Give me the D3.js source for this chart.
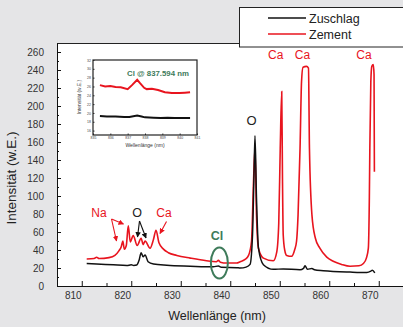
<!DOCTYPE html>
<html><head><meta charset="utf-8">
<script src="https://cdn.jsdelivr.net/npm/d3@7"></script>
<style>
html,body{margin:0;padding:0;background:#e5e5e7;}
svg{display:block;font-family:"Liberation Sans",Arial,sans-serif;}
</style></head>
<body><svg id="c" width="403" height="327"></svg>
<script>
// ---- data ----
const seriesNames = ["Zuschlag", "Zement"];
const xTickLabels = [810, 820, 830, 840, 850, 860, 870];
const yTickLabels = [0,20,40,60,80,100,120,140,160,180,200,220,240,260];

const zuschlagWl = [811.0,813.0,816.4,819.1,820.0,820.5,821.1,821.6,822.0,822.4,822.8,823.4,824.5,827.2,831.9,836.6,837.6,838.2,841.3,842.0,843.2,844.0,844.5,844.8,845.0,845.3,845.7,846.7,848.7,850.7,854.1,854.8,855.1,855.6,856.5,857.0,858.8,864.2,867.6,868.4,868.7,869.2];
const zuschlagVal = [25,24.5,23.5,22.8,23.5,22.8,23.3,29,37,32.5,34.5,27,24.4,23,22,21.3,22.3,20.8,20.4,20,21,24,57,124,167,98,42,23.7,18.5,19,18,19.5,22.5,18.5,19.5,18,17,15.5,15,16.5,17.5,14.5];

const zementWl = [811.0,812.5,813.0,813.5,815.5,816.7,817.5,818.0,818.3,818.6,819.0,819.4,819.8,820.4,821.2,822.0,822.4,822.8,823.8,824.5,825.0,825.6,826.5,827.5,829.2,831.9,835.2,837.2,837.6,838.0,839.3,841.3,842.0,843.0,843.7,844.3,844.7,845.0,845.3,845.7,846.7,848.7,849.4,849.8,850.1,850.4,850.55,850.7,851.0,851.4,852.4,853.0,853.4,853.7,854.1,854.4,854.7,855.4,855.8,856.0,856.5,857.2,858.1,859.5,860.8,862.5,864.2,866.0,866.9,867.5,867.9,868.1,868.2,868.4,868.6,868.9,869.05,869.12];
const zementVal = [30,30.5,32,30.5,31.5,34,39,44,50,41,45,67,49,56,45,53,46,50,42,52,62,48,41,37,34,31,28,27,28.5,26.5,25.5,25.5,27,29.5,34,50,116,153,79,42,31,28,38,70,153,216,120,57,40,34,33,40,50,79,153,227,243,244,242,153,79,53,42,32,27.5,24,22,22.5,25,31,42,98,153,227,244,246,235,127];

// inset (Cl region)
const insetXTicks = [835,836,837,838,839,840,841];
const insetYTicks = [16,18,20,22,24,26,28,30,32];
const insetZementWl = [835.4,835.7,836.0,836.3,836.6,837.0,837.25,837.55,837.7,837.95,838.1,838.4,838.75,839.15,839.55,840.0,840.3,840.6];
const insetZementVal = [26.3,26.0,26.1,25.9,25.8,25.4,26.3,27.5,26.8,25.7,25.4,25.5,25.2,24.7,24.5,24.5,24.6,24.7];
const insetZuschlagWl = [835.4,835.8,836.3,836.8,837.1,837.55,837.8,838.0,838.5,838.9,839.3,839.7,840.2,840.6];
const insetZuschlagVal = [19.3,19.2,19.2,19.1,19.1,19.4,19.2,19.0,18.9,18.85,18.9,18.85,18.85,18.85];

// annotations
const caLabels = [{t:"Ca", wl:849.2, v:252},{t:"Ca", wl:854.6, v:252},{t:"Ca", wl:867.0, v:252}];

const RED = "#e8141e", BLACK = "#111111", GREEN = "#3e7b5a";

const svg = d3.select("#c");
const L = 57, R = 403.5, T = 43, B = 286;
const x = d3.scaleLinear().domain([805, 875]).range([L, R]);
const y = d3.scaleLinear().domain([0, 270]).range([B, T]);

// plot background
svg.append("rect").attr("x", L).attr("y", T).attr("width", 403 - L).attr("height", B - T).attr("fill", "#fff");
svg.append("line").attr("x1", L).attr("x2", 240).attr("y1", T + 0.5).attr("y2", T + 0.5).attr("stroke", "#222");

// y axis
const yAxis = d3.axisLeft(y).tickValues(yTickLabels).tickSizeInner(-4).tickSizeOuter(0).tickPadding(13);
const gy = svg.append("g").attr("transform", `translate(${L},0)`).call(yAxis);
gy.selectAll("text").attr("font-size", 10).attr("fill", "#333").attr("font-family", "Liberation Sans, Arial");
gy.select(".domain").attr("stroke", "#111");
const yMinor = d3.axisLeft(y).tickValues(d3.range(10, 270, 20)).tickSize(-2).tickFormat("");
svg.append("g").attr("transform", `translate(${L},0)`).call(yMinor).select(".domain").remove();

// x axis
const xAxis = d3.axisBottom(x).tickValues(xTickLabels).tickSizeInner(-5).tickSizeOuter(0).tickPadding(6).tickFormat(d3.format("d"));
const gx = svg.append("g").attr("transform", `translate(0,${B})`).call(xAxis);
gx.selectAll("text").attr("font-size", 10).attr("fill", "#333").attr("dx", -9).attr("font-family", "Liberation Sans, Arial");
gx.select(".domain").attr("stroke", "#111");
const xMinor = d3.axisBottom(x).tickValues(d3.range(815, 875, 10)).tickSize(-3).tickFormat("");
svg.append("g").attr("transform", `translate(0,${B})`).call(xMinor).select(".domain").remove();
svg.selectAll(".tick line").attr("stroke", "#111");

// titles
svg.append("text").attr("x", 217).attr("y", 320).attr("text-anchor", "middle").attr("font-size", 12.5).attr("fill", "#222").text("Wellenlänge (nm)");
svg.append("text").attr("transform", "translate(16,178) rotate(-90)").attr("text-anchor", "middle").attr("font-size", 13.5).attr("fill", "#222").text("Intensität (w.E.)");

// series
const line = d3.line().x(d => x(d[0])).y(d => y(d[1])).curve(d3.curveMonotoneX);
const zusData = zuschlagWl.map((w, i) => [w, zuschlagVal[i]]);
const zemData = zementWl.map((w, i) => [w, zementVal[i]]);
svg.append("path").datum(zemData).attr("d", line).attr("fill", "none").attr("stroke", RED).attr("stroke-width", 1.6);
svg.append("path").datum(zusData).attr("d", line).attr("fill", "none").attr("stroke", BLACK).attr("stroke-width", 1.5);

// labels on main
caLabels.forEach(c => {
  svg.append("text").attr("x", x(c.wl)).attr("y", y(c.v)).attr("text-anchor", "middle").attr("font-size", 12).attr("fill", RED).text(c.t);
});
svg.append("text").attr("x", x(844.3)).attr("y", y(179)).attr("text-anchor", "middle").attr("font-size", 13).attr("fill", "#222").text("O");

// lower annotations
const defs = svg.append("defs");
[["ar", RED], ["ab", BLACK]].forEach(([id, col]) => {
  defs.append("marker").attr("id", id).attr("viewBox", "0 0 10 10").attr("refX", 9).attr("refY", 5)
    .attr("markerWidth", 5).attr("markerHeight", 5).attr("orient", "auto")
    .append("path").attr("d", "M0,0 L10,5 L0,10 z").attr("fill", col);
});
svg.append("text").attr("x", 99).attr("y", 217).attr("text-anchor", "middle").attr("font-size", 12).attr("fill", RED).text("Na");
svg.append("text").attr("x", 137).attr("y", 217).attr("text-anchor", "middle").attr("font-size", 12.5).attr("fill", "#222").text("O");
svg.append("text").attr("x", 164).attr("y", 217).attr("text-anchor", "middle").attr("font-size", 12).attr("fill", RED).text("Ca");
const arrows = [
  [111.5, 219, 116.5, 241, "ar", RED],
  [111.5, 219, 123.5, 224, "ar", RED],
  [139.5, 221, 137.5, 237, "ab", BLACK],
  [139.5, 221, 146, 238, "ab", BLACK],
  [166.5, 221.5, 160, 233.5, "ar", RED]
];
arrows.forEach(a => {
  svg.append("line").attr("x1", a[0]).attr("y1", a[1]).attr("x2", a[2]).attr("y2", a[3])
    .attr("stroke", a[5]).attr("stroke-width", 1.1).attr("marker-end", `url(#${a[4]})`);
});

// Cl marker
svg.append("text").attr("x", 217).attr("y", 240).attr("text-anchor", "middle").attr("font-size", 12.5).attr("font-weight", "bold").attr("fill", GREEN).text("Cl");
svg.append("ellipse").attr("cx", x(837.6) + 1).attr("cy", 263).attr("rx", 8.5).attr("ry", 15.5).attr("fill", "none").attr("stroke", GREEN).attr("stroke-width", 2);

// legend
const lg = svg.append("g");
lg.append("rect").attr("x", 239.5).attr("y", 7.5).attr("width", 170).attr("height", 39.5).attr("fill", "#fff").attr("stroke", "#222");
[[seriesNames[0], BLACK, 18], [seriesNames[1], RED, 34]].forEach(([n, c, yy]) => {
  lg.append("line").attr("x1", 268).attr("x2", 306).attr("y1", yy).attr("y2", yy).attr("stroke", c).attr("stroke-width", 1.6);
  lg.append("text").attr("x", 309).attr("y", yy + 4.5).attr("font-size", 12.5).attr("fill", "#222").text(n);
});

// inset
const IL = 93, IR = 197, IT = 60, IB = 135;
const ix = d3.scaleLinear().domain([835, 841]).range([IL, IR]);
const iy = d3.scaleLinear().domain([15, 32]).range([IB, IT]);
const ig = svg.append("g");
const iax = d3.axisBottom(ix).tickValues(insetXTicks).tickSize(-1.5).tickPadding(2).tickFormat(d3.format("d"));
const gix = ig.append("g").attr("transform", `translate(0,${IB})`).call(iax);
gix.selectAll("text").attr("font-size", 3.5).attr("fill", "#444");
const iay = d3.axisLeft(iy).tickValues(insetYTicks).tickSize(-1.5).tickPadding(2).tickFormat(d3.format("d"));
const giy = ig.append("g").attr("transform", `translate(${IL},0)`).call(iay);
giy.selectAll("text").attr("font-size", 3.5).attr("fill", "#444");
ig.selectAll(".domain").remove();
ig.selectAll(".tick line").attr("stroke", "#333");
ig.append("rect").attr("x", IL).attr("y", IT).attr("width", IR - IL).attr("height", IB - IT).attr("fill", "none").attr("stroke", "#222").attr("stroke-width", 1.2);
const iline = d3.line().x(d => ix(d[0])).y(d => iy(d[1])).curve(d3.curveLinear);
ig.append("path").datum(insetZementWl.map((w, i) => [w, insetZementVal[i]])).attr("d", iline).attr("fill", "none").attr("stroke", RED).attr("stroke-width", 2);
ig.append("path").datum(insetZuschlagWl.map((w, i) => [w, insetZuschlagVal[i]])).attr("d", iline).attr("fill", "none").attr("stroke", BLACK).attr("stroke-width", 2);
ig.append("text").attr("x", 158).attr("y", 76).attr("text-anchor", "middle").attr("font-size", 7.8).attr("font-weight", "bold").attr("fill", GREEN).text("Cl @ 837.594 nm");
ig.append("text").attr("x", 145).attr("y", 147).attr("text-anchor", "middle").attr("font-size", 5).attr("fill", "#333").text("Wellenlänge (nm)");
ig.append("text").attr("transform", "translate(81,97) rotate(-90)").attr("text-anchor", "middle").attr("font-size", 5).attr("fill", "#333").text("Intensität (w.E.)");
</script></body></html>
